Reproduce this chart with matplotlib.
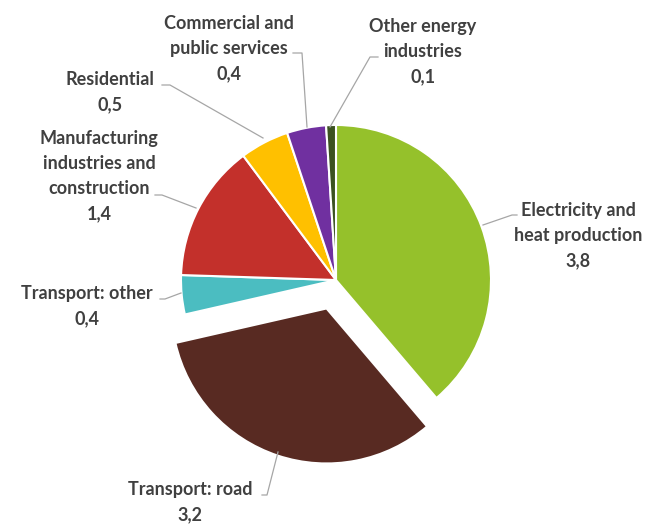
import matplotlib
matplotlib.use("Agg")
import matplotlib.pyplot as plt

labels = ["Electricity and\nheat production", "Transport: road", "Transport: other",
          "Manufacturing\nindustries and\nconstruction", "Residential",
          "Commercial and\npublic services", "Other energy\nindustries"]
values = [3.8, 3.2, 0.4, 1.4, 0.5, 0.4, 0.1]
value_text = ["3,8", "3,2", "0,4", "1,4", "0,5", "0,4", "0,1"]
colors = ["#95C12B", "#582A22", "#4BBDC1", "#C3302B", "#FFC000", "#7030A0", "#3B5220"]
explode = [0, 30, 0, 0, 0, 0, 0]

W, H = 652, 525
fig = plt.figure(figsize=(W / 100, H / 100), dpi=100)
ax = fig.add_axes([0, 0, 1, 1])

cx, cy, r = 336, 280, 155
wedges, _ = ax.pie(values, colors=colors, explode=explode, startangle=90,
                   counterclock=False, radius=r, center=(cx, H - cy),
                   wedgeprops=dict(edgecolor="white", linewidth=1.5), frame=True)
ax.set_xlim(0, W)
ax.set_ylim(0, H)
ax.set_aspect("equal")
ax.axis("off")

# label positions (text centre x, top y in pixels from top)
label_pos = [(578, 202), (190, 481), (87, 285), (99, 130), (110, 71), (229, 15), (423, 18)]
leaders = [
    [(517, 215), (512, 215), (483, 225)],
    [(262, 495), (267, 495), (278, 452)],
    [(160, 299), (165, 299), (181, 293)],
    [(155, 195), (162, 195), (196, 208)],
    [(162, 85), (170, 85), (263, 138)],
    [(293, 53), (302, 53), (307, 127)],
    [(378, 57), (370, 57), (330, 127)],
]
font = dict(family=["Lato", "DejaVu Sans"], fontweight="bold", fontsize=13, color="#404040")
for (x, y), lab, vt in zip(label_pos, labels, value_text):
    ax.text(x, H - y, lab + "\n" + vt, ha="center", va="top", linespacing=1.58, **font)
for pts in leaders:
    xs, ys = zip(*pts)
    ax.plot(xs, [H - v for v in ys], color="#A6A6A6", lw=0.9)

fig.savefig("out.png", dpi=100, facecolor="white")
